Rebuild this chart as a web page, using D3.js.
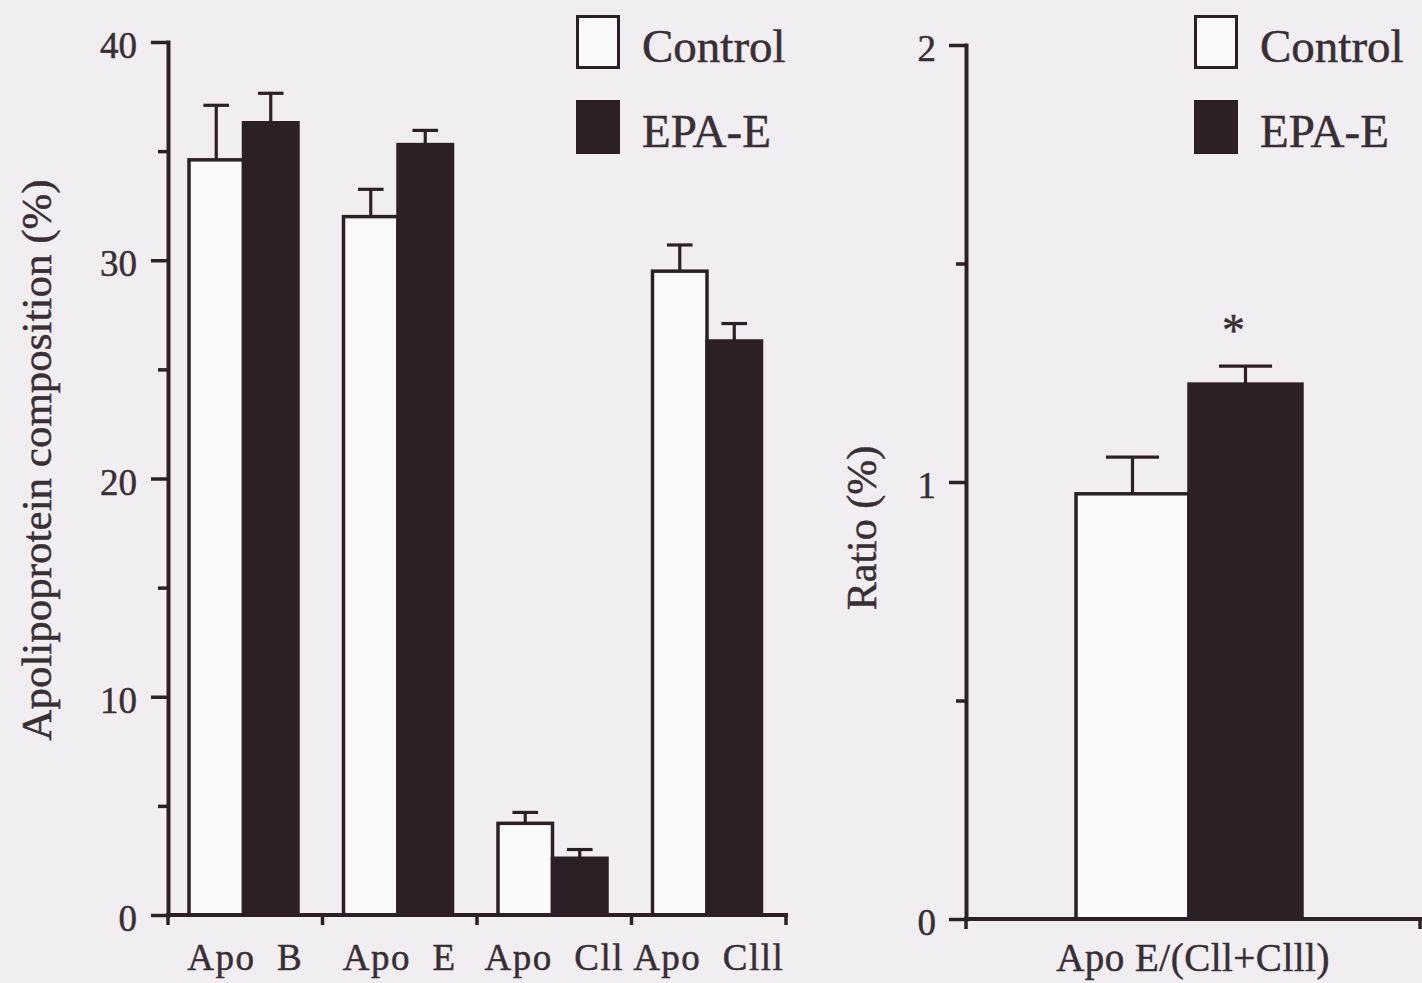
<!DOCTYPE html>
<html>
<head>
<meta charset="utf-8">
<script src="https://cdn.jsdelivr.net/npm/d3@7"></script>
<style>
    html, body { margin: 0; padding: 0; background: #f1eef2; }
    svg { display: block; }
    text { font-family: "Liberation Serif", "Times New Roman", serif; fill: #3a2e35; stroke: #3a2e35; stroke-width: 0.5px; }
</style>
</head>
<body>
<svg width="1422" height="983"></svg>
<script>
// ---- data ----
var series = ["Control", "EPA-E"];

var categories = ["Apo  B", "Apo  E", "Apo  Cll", "Apo  Clll"];
var controlValues = [34.6, 32.0, 4.2, 29.5];
var controlErrors = [2.5, 1.25, 0.5, 1.2];
var epaValues = [36.3, 35.3, 2.6, 26.3];
var epaErrors = [1.35, 0.65, 0.4, 0.8];
var compTicks = [0, 10, 20, 30, 40];
var compMinorTicks = [5, 15, 25, 35];

var ratioCategories = ["Apo E/(Cll+Clll)"];
var ratioControl = [0.973];
var ratioControlErr = [0.084];
var ratioEpa = [1.224];
var ratioEpaErr = [0.041];
var ratioMarks = ["*"];
var ratioTicks = [0, 1, 2];
var ratioMinorTicks = [0.5, 1.5];

var INK = "#2c2026",
    WHITE = "#fbfafb";

var svg = d3.select("svg");

function drawPanel(p) {
    var g = svg.append("g");

    var y = d3.scaleLinear().domain(p.domain).range([p.bottom, p.top]);
    var x = d3.scaleBand().domain(p.categories).range([p.left, p.right]);
    var xs = d3.scaleBand().domain(series).range(p.inner);

    var rows = [];
    p.categories.forEach(function (c, i) {
        series.forEach(function (s, j) {
            rows.push({
                cat: c, s: s,
                v: p.values[j][i],
                e: p.errors[j][i],
                mark: p.marks && p.marks[j] ? p.marks[j][i] : ""
            });
        });
    });

    var capW = xs.bandwidth() * 0.47;
    function cx(d) { return x(d.cat) + xs(d.s) + xs.bandwidth() / 2; }

    // error bars (upper only)
    var err = g.selectAll(".err").data(rows).enter().append("g").attr("class", "err");
    err.append("line")
        .attr("x1", cx).attr("x2", cx)
        .attr("y1", function (d) { return y(d.v); })
        .attr("y2", function (d) { return y(d.v + d.e); });
    err.append("line")
        .attr("x1", function (d) { return cx(d) - capW / 2; })
        .attr("x2", function (d) { return cx(d) + capW / 2; })
        .attr("y1", function (d) { return y(d.v + d.e); })
        .attr("y2", function (d) { return y(d.v + d.e); });
    err.selectAll("line").attr("stroke", INK).attr("stroke-width", 3.2);

    // bars
    g.selectAll(".bar").data(rows).enter().append("rect")
        .attr("class", "bar")
        .attr("x", function (d) { return x(d.cat) + xs(d.s); })
        .attr("width", xs.bandwidth())
        .attr("y", function (d) { return y(d.v); })
        .attr("height", function (d) { return y(0) - y(d.v); })
        .attr("fill", function (d) { return d.s === "Control" ? WHITE : INK; })
        .attr("stroke", INK)
        .attr("stroke-width", 3.5);

    // significance marks
    g.selectAll(".mark").data(rows.filter(function (d) { return d.mark; })).enter().append("text")
        .attr("x", function (d) { return cx(d) - 12; })
        .attr("y", function (d) { return y(d.v + d.e) - 20; })
        .attr("text-anchor", "middle")
        .style("font-size", "46px")
        .text(function (d) { return d.mark; });

    // y axis, major + minor ticks
    var axisY = g.append("g")
        .attr("transform", "translate(" + p.left + ",0)")
        .call(d3.axisLeft(y).tickValues(p.ticks).tickSize(17).tickSizeOuter(0)
            .tickPadding(p.tickPad).tickFormat(d3.format("d")));
    g.append("g")
        .attr("transform", "translate(" + p.left + ",0)")
        .call(d3.axisLeft(y).tickValues(p.minorTicks).tickSize(10).tickFormat(""))
        .select(".domain").remove();

    g.selectAll(".tick line").attr("stroke", INK).attr("stroke-width", 3.5);
    axisY.select(".domain").attr("stroke", INK).attr("stroke-width", 4).attr("stroke-linecap", "square");
    axisY.selectAll(".tick text")
        .attr("dy", "0.42em")
        .style("font-family", "'Liberation Serif', serif")
        .style("font-size", "37px")
        .attr("fill", "#3a2e35");

    // x axis: baseline with ticks at band edges
    g.append("line")
        .attr("x1", p.left).attr("x2", p.right)
        .attr("y1", y(0)).attr("y2", y(0))
        .attr("stroke", INK).attr("stroke-width", 4).attr("stroke-linecap", "square");
    var edges = p.categories.map(function (c) { return x(c); }).concat([p.right]);
    g.selectAll(".xtick").data(edges).enter().append("line")
        .attr("x1", function (d) { return d; }).attr("x2", function (d) { return d; })
        .attr("y1", y(0)).attr("y2", y(0) + 10)
        .attr("stroke", INK).attr("stroke-width", 3.5);
    g.selectAll(".xlabel").data(p.categories).enter().append("text")
        .attr("x", function (c) { return x(c) + x.bandwidth() / 2; })
        .attr("y", p.labelY)
        .attr("text-anchor", "middle")
        .attr("xml:space", "preserve")
        .style("white-space", "pre")
        .style("font-size", p.labelSize + "px")
        .style("letter-spacing", p.labelSpacing + "px")
        .text(function (c) { return c; });

    // axis title
    g.append("text")
        .attr("transform", "translate(" + p.titleX + "," + p.titleY + ") rotate(-90)")
        .attr("text-anchor", "middle")
        .style("font-size", p.titleSize + "px")
        .text(p.title);

    // legend
    var leg = g.selectAll(".legend").data(series).enter().append("g")
        .attr("transform", function (d, i) { return "translate(" + p.legendX + "," + (15 + i * 85) + ")"; });
    leg.append("rect")
        .attr("x", 1.5).attr("y", 1.5)
        .attr("width", 41).attr("height", 51)
        .attr("fill", function (d) { return d === "Control" ? WHITE : INK; })
        .attr("stroke", INK).attr("stroke-width", 3);
    leg.append("text")
        .attr("x", 66).attr("y", 47)
        .style("font-size", "47px")
        .text(function (d) { return d; });
}

drawPanel({
    categories: categories,
    values: [controlValues, epaValues],
    errors: [controlErrors, epaErrors],
    domain: [0, 40], ticks: compTicks, minorTicks: compMinorTicks,
    left: 168, right: 786, top: 42, bottom: 915,
    inner: [21, 130], tickPad: 14,
    labelY: 970, labelSize: 37, labelSpacing: 1.5,
    title: "Apolipoprotein composition (%)", titleX: 51, titleY: 460, titleSize: 43,
    legendX: 576
});

drawPanel({
    categories: ratioCategories,
    values: [ratioControl, ratioEpa],
    errors: [ratioControlErr, ratioEpaErr],
    marks: [null, ratioMarks],
    domain: [0, 2], ticks: ratioTicks, minorTicks: ratioMinorTicks,
    left: 966, right: 1420, top: 45, bottom: 919,
    inner: [110, 336], tickPad: 13,
    labelY: 971, labelSize: 39, labelSpacing: 0.5,
    title: "Ratio (%)", titleX: 876, titleY: 528, titleSize: 42,
    legendX: 1194
});
</script>
</body>
</html>
